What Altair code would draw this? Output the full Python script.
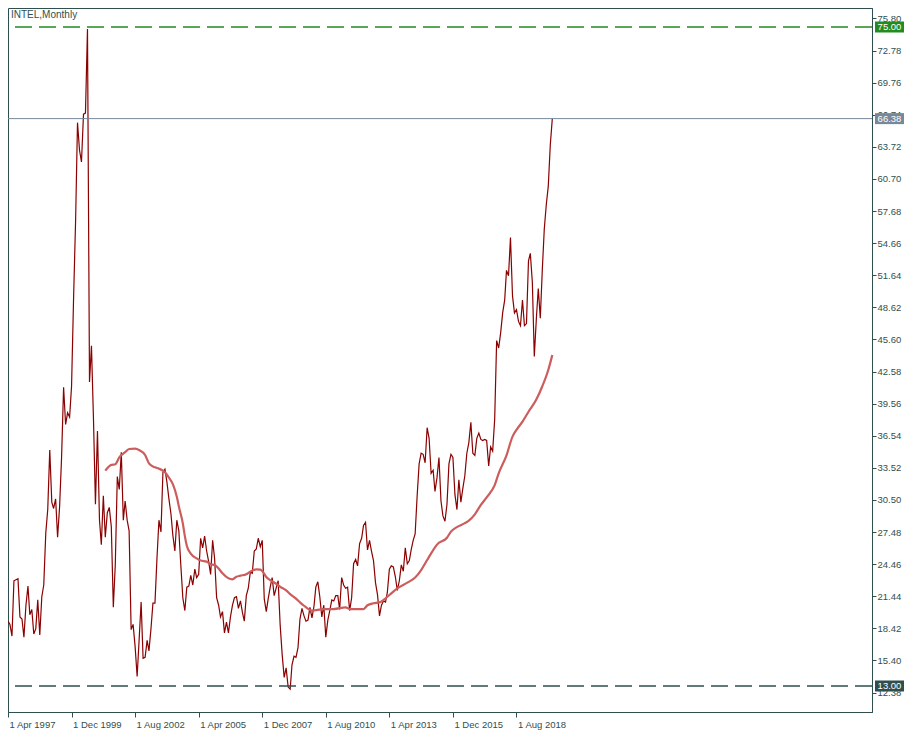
import altair as alt
import pandas as pd

# ---------------- data ----------------
title_text = "INTEL,Monthly"
start_month = "1997-04-01"

c1997 = [19.1, 18.8, 17.7, 22.9, 23.0, 23.1, 19.5, 19.3, 17.6]
c1998 = [20.6, 22.4, 19.7, 20.2, 17.9, 18.4, 21.1, 17.8, 21.4, 22.5, 27.4, 29.6]
c1999 = [35.2, 30.3, 29.7, 30.6, 27.0, 29.9, 34.5, 41.1, 37.6, 38.7, 38.3, 41.2]
c2000 = [49.5, 56.8, 66.0, 63.4, 62.3, 66.8, 66.9, 74.8, 41.6, 45.0, 38.1, 30.1]
c2001 = [37.0, 28.6, 26.3, 30.9, 27.0, 29.3, 29.8, 28.0, 20.4, 24.4, 32.7, 31.5]
c2002 = [35.0, 28.6, 30.4, 28.6, 27.6, 18.3, 18.8, 16.7, 13.9, 17.3, 20.9, 15.6]
c2003 = [15.7, 17.3, 16.3, 18.4, 20.8, 20.8, 24.9, 28.6, 27.5, 33.1, 33.4, 32.2]
c2004 = [30.6, 29.2, 27.2, 25.7, 28.6, 27.6, 24.4, 21.3, 20.1, 22.3, 22.4, 23.4]
c2005 = [22.5, 24.0, 23.2, 23.5, 26.9, 26.0, 27.1, 25.7, 24.7, 23.5, 26.7, 25.0]
c2006 = [21.3, 20.6, 19.5, 20.0, 18.0, 19.0, 18.0, 19.5, 20.6, 21.3, 21.4, 20.3]
c2007 = [21.0, 19.9, 19.1, 21.5, 22.2, 23.7, 23.6, 25.7, 25.9, 26.9, 26.1, 26.7]
c2008 = [21.2, 20.0, 21.2, 22.3, 23.2, 21.5, 22.2, 22.9, 18.7, 16.0, 13.8, 14.7]
c2009 = [12.9, 12.7, 15.0, 15.8, 15.7, 16.6, 19.3, 20.3, 19.6, 19.1, 19.2, 20.4]
c2010 = [19.4, 20.5, 22.3, 22.8, 21.4, 19.5, 20.6, 17.6, 19.2, 20.1, 21.1, 21.0]
c2011 = [21.5, 21.5, 20.2, 23.2, 22.5, 22.2, 22.3, 20.1, 21.3, 24.5, 24.9, 24.3]
c2012 = [26.4, 26.9, 28.1, 28.4, 25.8, 26.7, 25.7, 24.8, 22.7, 21.6, 19.6, 20.6]
c2013 = [21.0, 20.9, 21.8, 24.0, 24.3, 24.2, 23.3, 22.0, 22.9, 24.4, 23.8, 26.0]
c2014 = [24.5, 24.8, 25.8, 26.7, 27.3, 30.9, 33.9, 34.9, 34.8, 34.0, 37.3, 36.3]
c2015 = [33.0, 33.3, 31.3, 32.6, 34.5, 30.4, 29.0, 28.5, 30.1, 33.9, 34.8, 34.5]
c2016 = [31.0, 29.6, 32.4, 30.3, 31.6, 32.8, 34.9, 35.9, 37.8, 34.9, 34.7, 36.3]
c2017 = [36.8, 36.2, 36.1, 36.2, 36.1, 33.7, 35.5, 35.1, 38.1, 45.5, 44.8, 46.2]
c2018 = [48.1, 49.3, 52.1, 51.6, 55.2, 49.7, 48.1, 48.4, 47.3, 46.9, 49.3, 46.9]
c2019 = [47.1, 53.0, 53.7, 51.0, 44.0, 47.5, 50.4, 47.6, 52.2, 56.0, 58.3, 60.0]
c2020 = [63.9, 66.38]

# moving average (month offset from Apr 1997, value)
ma_month = [49, 52, 54, 56, 59, 61, 64, 66, 69, 71, 74, 76, 79, 81, 83, 85, 86, 88,
            89, 90, 92, 95, 97, 100, 102, 104, 106, 108, 111, 113, 115, 117, 120,
            122, 125, 127, 128, 130, 132, 135, 137, 140, 142, 145, 147, 149, 153,
            159, 164, 170, 172, 179, 181, 184, 187, 189, 192, 196, 201, 205, 208,
            211, 213, 216, 221, 223, 226, 230, 232, 235, 238, 241, 245, 247, 251,
            254, 256, 259, 262, 266, 269, 272, 274]
ma_value = [33.26, 33.8, 33.86, 34.5, 35.0, 35.3, 35.33, 35.2, 34.73, 33.95, 33.57,
            33.45, 33.1, 32.6, 32.0, 30.8, 29.9, 28.3, 27.1, 26.2, 25.45, 25.0, 24.8,
            24.7, 24.45, 24.38, 24.05, 23.6, 23.13, 23.04, 23.28, 23.38, 23.52, 23.76,
            23.98, 23.95, 23.82, 23.25, 22.97, 22.62, 22.34, 22.0, 21.65, 21.22, 20.87,
            20.55, 20.09, 20.24, 20.24, 20.4, 20.24, 20.24, 20.6, 20.78, 20.87, 21.09,
            21.56, 22.19, 22.72, 23.2, 23.91, 24.85, 25.48, 26.3, 26.95, 27.52, 27.95,
            28.32, 28.56, 29.15, 30.03, 30.75, 31.9, 33.0, 34.7, 36.46, 37.1, 37.87,
            38.8, 39.95, 41.2, 42.73, 44.14]

level_values = [75.00, 13.00, 66.38]
level_colors = ["#228B22", "#2F4F4F", "#778899"]
level_dashed = [True, True, False]

y_ticks = [12.38, 15.40, 18.42, 21.44, 24.46, 27.48, 30.50, 33.52, 36.54, 39.56,
           42.58, 45.60, 48.62, 51.64, 54.66, 57.68, 60.70, 63.72, 66.74, 69.76,
           72.78, 75.80]
x_tick_dates = [(1997, 4), (1999, 12), (2002, 8), (2005, 4), (2007, 12),
                (2010, 8), (2013, 4), (2015, 12), (2018, 8)]

# ---------------- tables ----------------
closes = (c1997 + c1998 + c1999 + c2000 + c2001 + c2002 + c2003 + c2004 + c2005 +
          c2006 + c2007 + c2008 + c2009 + c2010 + c2011 + c2012 + c2013 + c2014 +
          c2015 + c2016 + c2017 + c2018 + c2019 + c2020)
dates = pd.date_range(start_month, periods=len(closes), freq="MS").strftime("%Y-%m-%d")
price_df = pd.DataFrame({"date": dates, "close": closes})

t0 = pd.Timestamp(start_month)
ma_df = pd.DataFrame({
    "date": [(t0 + pd.DateOffset(months=m)).strftime("%Y-%m-%d") for m in ma_month],
    "close": ma_value,
})
lev_df = pd.DataFrame({"close": level_values, "color": level_colors, "dashed": level_dashed})

W, H = 864, 704
PX_PER_UNIT = 10.629
y_top = 75 + 19 / PX_PER_UNIT
y_bot = 75 - (H - 19) / PX_PER_UNIT

FONT = "Liberation Sans"
AX = "#2F4F4F"

x_scale = alt.Scale(type="utc",
                    domain=[alt.DateTime(year=1997, month=4, date=1, utc=True),
                            alt.DateTime(year=2033, month=7, date=1, utc=True)])
y_scale = alt.Scale(domain=[y_bot, y_top], nice=False, zero=False)

x_axis = alt.Axis(values=[alt.DateTime(year=y, month=m, date=1, utc=True) for y, m in x_tick_dates],
                  format="%-d %b %Y", labelAlign="left", labelBaseline="top",
                  labelPadding=2, labelOffset=1, tickSize=5, labelFlush=False,
                  labelOverlap=False, grid=False, title=None)
y_axis = alt.Axis(orient="right", values=y_ticks, format=".2f", tickSize=4,
                  labelPadding=1, labelFlush=False, labelOverlap=False, grid=False,
                  title=None)

Y = alt.Y("close:Q", scale=y_scale, axis=y_axis)

price = alt.Chart(price_df).mark_line(color="#8B0000", strokeWidth=1.2).encode(
    x=alt.X("date:T", scale=x_scale, axis=x_axis),
    y=Y,
)

ma = alt.Chart(ma_df).mark_line(color="#CD5C5C", strokeWidth=2.2, interpolate="monotone").encode(
    x=alt.X("date:T", scale=x_scale, axis=x_axis),
    y=Y,
)

dashed_rules = alt.Chart(lev_df).transform_filter("datum.dashed").mark_rule(
    strokeWidth=1.3, strokeDash=[17, 7]).encode(
    y=Y,
    color=alt.Color("color:N", scale=None),
)
solid_rules = alt.Chart(lev_df).transform_filter("!datum.dashed").mark_rule(
    strokeWidth=1).encode(
    y=Y,
    color=alt.Color("color:N", scale=None),
)

boxes = alt.Chart(lev_df).mark_rect(yOffset=-5.5, y2Offset=5.5).encode(
    y=Y,
    y2=alt.Y2("close"),
    x=alt.value(W + 3),
    x2=alt.value(W + 32),
    color=alt.Color("color:N", scale=None),
)
box_text = alt.Chart(lev_df).mark_text(
    align="center", baseline="middle", color="white", font=FONT, fontSize=9.5).encode(
    y=Y,
    x=alt.value(W + 17.5),
    text=alt.Text("close:Q", format=".2f"),
)

title = alt.Chart(pd.DataFrame({"t": [title_text]})).mark_text(
    align="left", baseline="top", color=AX, font=FONT, fontSize=10).encode(
    x=alt.value(3), y=alt.value(2), text="t:N")

chart = alt.layer(price, ma, dashed_rules, solid_rules, boxes, box_text, title).properties(
    width=W, height=H,
    autosize=alt.AutoSizeParams(type="none"),
    padding={"left": 0, "top": 0, "right": 34, "bottom": 18},
    background="white",
).configure_view(
    stroke=AX, strokeWidth=1, fill="white"
).configure_axis(
    domainColor=AX, tickColor=AX, labelColor=AX, labelFont=FONT, labelFontSize=9.5,
)

chart.save("out.html", embed_options={"renderer": "svg", "actions": False})
